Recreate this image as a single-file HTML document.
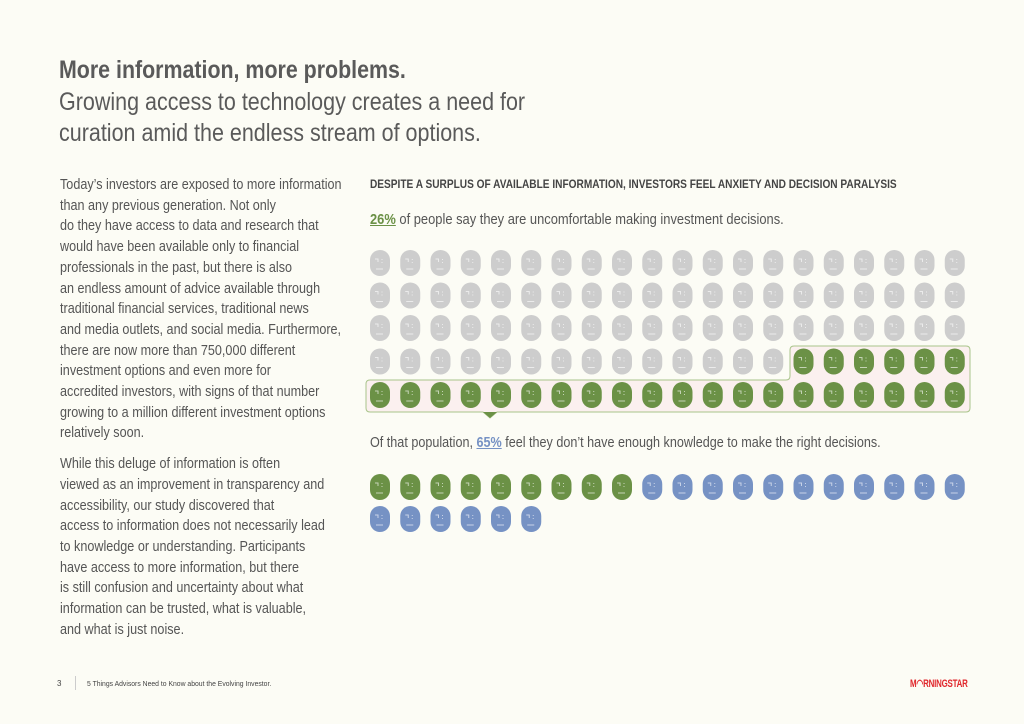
<!DOCTYPE html>
<html><head><meta charset="utf-8"><style>
body{margin:0;width:1024px;height:724px;background:#fcfcf5;overflow:hidden;position:relative;font-family:"Liberation Sans",sans-serif;color:#555}
.a{position:absolute;white-space:nowrap;transform-origin:0 0}
#title{left:59px;top:55px;font-size:25px;font-weight:bold;color:#5a5a5a;line-height:30px;transform:scaleX(0.855)}
#sub{left:59px;top:87px;font-size:25px;color:#5a5a5a;line-height:30.5px;transform:scaleX(0.86)}
#body{left:60px;top:175px;font-size:14.3px;line-height:20.7px;color:#555;transform:scaleX(0.882)}
#hd{left:370px;top:179px;font-size:11.5px;font-weight:bold;color:#444;transform:scaleX(0.88)}
.st{font-size:15px;color:#555}
</style></head><body>
<div class="a" id="title">More information, more problems.</div>
<div class="a" id="sub">Growing access to technology creates a need for<br>curation amid the endless stream of options.</div>
<div class="a" id="body">Today’s investors are exposed to more information<br>than any previous generation. Not only<br>do they have access to data and research that<br>would have been available only to financial<br>professionals in the past, but there is also<br>an endless amount of advice available through<br>traditional financial services, traditional news<br>and media outlets, and social media. Furthermore,<br>there are now more than 750,000 different<br>investment options and even more for<br>accredited investors, with signs of that number<br>growing to a million different investment options<br>relatively soon.<div style="height:10px"></div>While this deluge of information is often<br>viewed as an improvement in transparency and<br>accessibility, our study discovered that<br>access to information does not necessarily lead<br>to knowledge or understanding. Participants<br>have access to more information, but there<br>is still confusion and uncertainty about what<br>information can be trusted, what is valuable,<br>and what is just noise.</div>
<div class="a" id="hd">DESPITE A SURPLUS OF AVAILABLE INFORMATION, INVESTORS FEEL ANXIETY AND DECISION PARALYSIS</div>
<div class="a st" style="left:370px;top:211px;transform:scaleX(0.86)"><b style="color:#6b9146;text-decoration:underline">26%</b> of people say they are uncomfortable making investment decisions.</div>
<div class="a st" style="left:370px;top:434px;transform:scaleX(0.84)">Of that population, <b style="color:#7692c4;text-decoration:underline">65%</b> feel they don’t have enough knowledge to make the right decisions.</div>
<svg id="chart" class="a" style="left:0;top:0" width="1024" height="724">
<path d="M366 384 Q366 380 370 380 L786 380 Q790 380 790 376 L790 350 Q790 346 794 346 L966 346 Q970 346 970 350 L970 408 Q970 412 966 412 L497 412 L490 418 L483 412 L370 412 Q366 412 366 408 Z" fill="#fbf0ef" stroke="#a9c48a" stroke-width="1"/>
<g id="g"></g>
<path d="M483 412 L490 418 L497 412 Z" fill="#6b9146"/>
</svg>
<div class="a" style="left:57px;top:679px;font-size:8px;color:#444">3</div>
<div class="a" style="left:75px;top:676px;width:1px;height:14px;background:#ccc"></div>
<div class="a" style="left:87px;top:679px;font-size:7.5px;color:#444;transform:scaleX(0.91)">5 Things Advisors Need to Know about the Evolving Investor.</div>
<div class="a" style="left:910px;top:677px;font-size:11px;font-weight:bold;color:#e0262b;letter-spacing:-0.3px;transform:scaleX(0.72)">M◠RNINGSTAR</div>
<script>
const totalTop=[100];
const greenTop=[26];
const totalBottom=[26];
const greenBottom=[9];
const cols=20, x0=380, dx=30.25, rowsTop=[263,295.5,328,361.5,395], rowsBot=[487,519];
const g=document.getElementById('g');
const NS='http://www.w3.org/2000/svg';
function face(cx,cy,fill,name){
  const grp=document.createElementNS(NS,'g');
  
  
  const r=document.createElementNS(NS,'rect');
  r.setAttribute('x',cx-10);r.setAttribute('y',cy-13);r.setAttribute('width',20);r.setAttribute('height',26);r.setAttribute('rx',10);r.setAttribute('fill',fill);
  grp.appendChild(r);
  const p=document.createElementNS(NS,'path');
  p.setAttribute('d',`M${cx-5} ${cy-4}h3v3 M${cx+2} ${cy-4}v1 M${cx+2} ${cy-1}v1 M${cx-4} ${cy+6}h7`);
  p.setAttribute('stroke','rgba(255,255,255,0.6)');p.setAttribute('stroke-width','1');p.setAttribute('fill','none');
  grp.appendChild(p);
  g.appendChild(grp);
}
const nT=totalTop[0], gT=greenTop[0];
for(let i=0;i<nT;i++){
  const r=Math.floor(i/cols), c=i%cols;
  face(x0+c*dx, rowsTop[r], i>=nT-gT?'#6b9146':'#cdcdcd', 'person-icon');
}
const nB=totalBottom[0], gB=greenBottom[0];
for(let i=0;i<nB;i++){
  const r=Math.floor(i/cols), c=i%cols;
  face(x0+c*dx, rowsBot[r], i<gB?'#6b9146':'#7692c4', 'population-icon');
}
</script>
</body></html>
